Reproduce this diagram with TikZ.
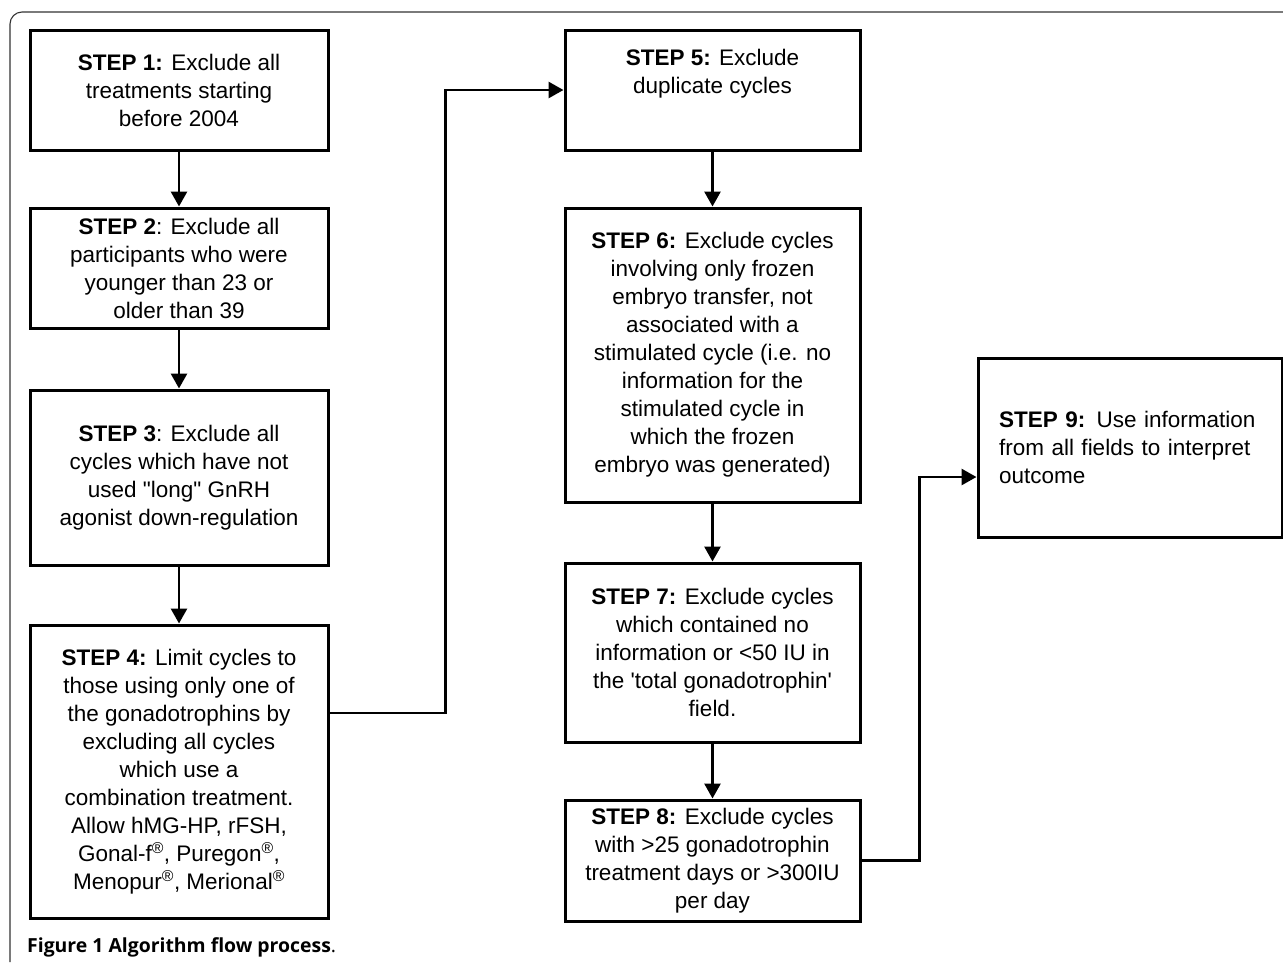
\documentclass[tikz,border=0pt]{standalone}
\usepackage{fontspec}
\setmainfont{Liberation Sans}
\newfontfamily\capfont{Open Sans}
\usetikzlibrary{arrows.meta}

\begin{document}
\begin{tikzpicture}[x=1pt, y=1pt,
    stepbox/.style={draw, line width=3pt, align=center, inner sep=0pt,
      font=\fontsize{22.5}{28}\selectfont},
    arr/.style={line width=2.8pt, -{Triangle[length=15pt, width=16pt]}}]
    \useasboundingbox (0,0) rectangle (1283,-962);
    \draw[line width=1.1pt, rounded corners=12pt, black!80] (10,-962) -- (10,-12) -- (1290,-12);

    \node[stepbox, minimum width=298, minimum height=120] (s1) at (179,-90)
      {\textbf{STEP 1:} Exclude all\\treatments starting\\before 2004};
    \node[stepbox, minimum width=298, minimum height=120] (s2) at (179,-268)
      {\textbf{STEP 2}: Exclude all\\participants who were\\younger than 23 or\\older than 39};
    \node[stepbox, minimum width=298, minimum height=175] (s3) at (179,-477.5)
      {\textbf{STEP 3}: Exclude all\\cycles which have not\\used \textquotedbl long\textquotedbl{} GnRH\\agonist down-regulation};
    \node[stepbox, minimum width=298, minimum height=293] (s4) at (179,-771.5)
      {\textbf{STEP 4:} Limit cycles to\\those using only one of\\the gonadotrophins by\\excluding all cycles\\which use a\\combination treatment.\\Allow hMG-HP, rFSH,\\Gonal-f\textsuperscript{®}, Puregon\textsuperscript{®},\\Menopur\textsuperscript{®}, Merional\textsuperscript{®}};

    \node[stepbox, minimum width=295, minimum height=120] (s5) at (712.5,-90)
      {\textbf{STEP 5:} Exclude\\duplicate cycles\\\strut};
    \node[stepbox, minimum width=295, minimum height=294] (s6) at (712.5,-355)
      {\textbf{STEP 6:} Exclude cycles\\involving only frozen\\embryo transfer, not\\associated with a\\stimulated cycle (i.e. no\\information for the\\stimulated cycle in\\which the frozen\\embryo was generated)};
    \node[stepbox, minimum width=295, minimum height=179] (s7) at (712.5,-652.5)
      {\textbf{STEP 7:} Exclude cycles\\which contained no\\information or <50 IU in\\the \textquotesingle total gonadotrophin\textquotesingle\\field.};
    \node[stepbox, minimum width=295, minimum height=121] (s8) at (712.5,-860.5)
      {\textbf{STEP 8:} Exclude cycles\\with >25 gonadotrophin\\treatment days or >300IU\\per day};

    \node[stepbox, align=left, text width=262, minimum width=304, minimum height=179] (s9) at (1130,-447.5)
      {\textbf{STEP 9:} Use information\\from all fields to interpret\\outcome};

    \path[arr] (s1) edge (s2);
    \path[arr] (s2) edge (s3);
    \path[arr] (s3) edge (s4);
    \draw[arr] ([yshift=58.5pt]s4.east) -- ++(116,0) |- (s5.west);
    \path[arr] (s5) edge (s6);
    \path[arr] (s6) edge (s7);
    \path[arr] (s7) edge (s8);
    \draw[arr] (s8.east) -- ++(58,0) |- ([yshift=-29.5pt]s9.west);

    \node[anchor=west, inner sep=0pt, font=\capfont\fontsize{19.4}{23}\selectfont] (cap) at (27,-947)
      {\textbf{Figure 1 Algorithm flow process}.};
\end{tikzpicture}
\end{document}
